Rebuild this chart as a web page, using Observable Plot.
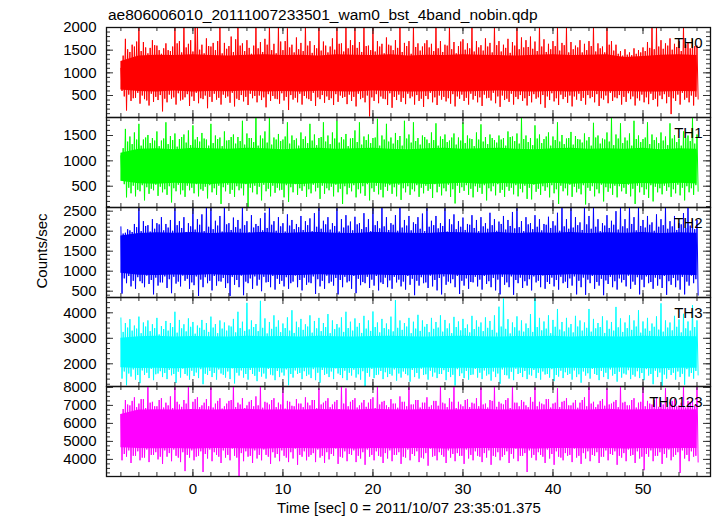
<!DOCTYPE html>
<html><head><meta charset="utf-8">
<script src="https://cdn.jsdelivr.net/npm/d3@7"></script>
<script src="https://cdn.jsdelivr.net/npm/@observablehq/plot@0.6"></script>
<style>
html,body{margin:0;padding:0;background:#fff;}
#fig{position:relative;width:717px;height:516px;overflow:hidden;font-family:"Liberation Sans",Arial,Helvetica,sans-serif;color:#000;}
.abs{position:absolute;white-space:nowrap;}
#title{left:108px;top:7px;font-size:15.5px;line-height:16px;}
#xlabel{left:209px;width:400px;text-align:center;top:500px;font-size:15px;line-height:16px;}
#ylabel{left:-58px;width:200px;text-align:center;top:243px;font-size:15px;line-height:16px;transform:rotate(-90deg);transform-origin:50% 50%;}
.panel{position:absolute;left:0;}
.panel svg{max-width:none;overflow:visible;}
</style></head><body>
<div id="fig">
  <div id="title" class="abs">ae806006010_20111007233501_wam0_bst_4band_nobin.qdp</div>
  <div id="ylabel" class="abs">Counts/sec</div>
  <div id="xlabel" class="abs">Time [sec] 0 = 2011/10/07 23:35:01.375</div>
</div>
<script>
// ---- time sampling of the envelope arrays ----
const t0 = -8.0, dt = 0.25;         // local maxima (hi) at t, local minima (lo) at t + dt/2
const coreT0 = -8.0, coreDt = 2.0;  // dense core band samples

// ---- TH0 ----
const th0Hi = [
 1100,1380,1750,1520,1460,1620,1580,1690,2050,1480,1680,1560,1430,1550,1720,1610,1600,1500,1420,1540,
 1650,1500,1480,1580,2020,1650,1700,1450,2060,1560,1640,1720,1470,2080,2000,1510,1620,1430,1760,1590,
 1580,1660,1500,1700,2050,1430,1660,1530,1590,1800,1460,1740,2040,1600,1650,1480,1720,1550,1420,1600,
 2010,1540,1680,1460,1750,1620,2060,1500,1640,1430,2030,1690,1500,1700,1980,1560,1620,1450,1780,1520,
 1660,1480,2050,1600,1700,1440,1610,1540,2020,1490,1690,1600,1450,1580,1760,1510,2040,1640,1650,1470,
 2000,1540,1720,1610,2050,1550,1680,1460,2010,1590,1600,1500,2030,1470,1700,1580,1640,1430,1780,1620,
 1600,1500,1720,1550,2040,1460,1660,1590,1700,1420,2020,1570,1650,1490,1580,1650,1720,1560,1640,1480,
 2030,1540,1700,1460,1620,1600,2050,1520,1680,1430,1590,1690,1740,1510,1650,1540,2010,1470,1700,1560,
 1610,1490,1760,1580,1660,1450,2040,1610,1700,1470,1620,1550,1750,1440,1680,1600,2030,1520,1780,1560,
 1720,1570,1800,1530,1690,1480,2050,1580,1740,1460,1640,1520,1700,1590,2020,1490,1660,1610,2000,1450,
 1680,1520,1600,1560,1720,1450,1640,1500,1700,1590,2030,1470,1650,1540,1580,1450,2010,1620,1700,1490,
 1620,1420,1480,1380,1520,1400,1450,1390,1540,1420,1500,1450,1560,1480,1680,1550,2040,1520,2000,1580,
 1720,1530,1650,1600,1760,1510,1640,1570,1700,1480,2020,1630,1680,1540,1740,1590,1600];
const th0Lo = [
 600,480,170,520,380,440,450,560,320,500,420,390,280,540,360,470,400,510,150,430,
 350,520,430,460,300,550,390,410,460,530,270,480,380,560,330,440,420,500,220,470,
 360,540,410,450,300,520,450,480,340,560,260,430,400,510,370,470,290,540,440,490,
 350,500,400,460,240,530,380,490,430,420,320,550,390,470,180,510,410,450,350,540,
 300,490,440,420,380,560,270,460,420,510,340,480,400,440,290,530,360,500,450,470,
 310,520,380,470,260,540,420,450,350,500,40,460,380,530,330,480,430,420,290,550,
 230,470,400,520,360,450,310,540,440,480,300,510,380,430,250,490,420,560,350,460,
 290,500,410,470,370,440,320,530,260,480,430,520,380,450,300,540,410,490,350,460,
 270,520,440,450,390,560,330,480,250,500,400,430,360,540,300,470,420,510,380,440,
 280,490,350,530,430,460,310,510,230,480,400,550,370,440,290,520,420,470,340,500,
 260,480,410,540,380,450,300,510,440,470,350,530,270,440,410,500,330,560,380,460,
 440,510,300,470,360,550,420,480,280,440,390,520,350,460,310,540,400,430,260,500,
 420,530,330,470,90,440,380,520,300,560,410,450,350,500,280,470,420];
const th0CoreHi = [1250,1370,1390,1380,1400,1380,1370,1390,1400,1380,1390,1370,1400,1390,1380,1400,1370,1390,1380,1400,1390,1380,1370,1390,1400,1380,1390,1400,1340,1360,1390,1400,1380];
const th0CoreLo = [620,590,580,600,575,590,585,600,580,590,575,595,585,580,600,590,575,585,595,580,590,600,585,575,590,580,595,585,590,580,575,590,585];

// ---- TH1 ----
const th1Hi = [
 1100,1250,1630,1380,1480,1330,1560,1420,1730,1300,1420,1460,1510,1350,1450,1400,1580,1290,1400,1440,
 1760,1330,1490,1410,1540,1280,1430,1470,1520,1360,1600,1310,1700,1420,1470,1380,1550,1440,1420,1300,
 1730,1350,1500,1430,1460,1290,1580,1400,1410,1470,1520,1340,1470,1390,1790,1320,1540,1450,1450,1370,
 1860,1300,1500,1440,1580,1360,1870,1320,1460,1420,1530,1390,1420,1480,1760,1340,1500,1410,1440,1300,
 1560,1430,1480,1350,1730,1400,1520,1310,1450,1470,1760,1380,1500,1330,1560,1440,1790,1360,1470,1420,
 1530,1290,1440,1450,1600,1370,1760,1320,1480,1410,1520,1350,1450,1460,1830,1300,1500,1420,1730,1380,
 1460,1340,1550,1410,1490,1300,1790,1440,1520,1360,1760,1390,1450,1320,1500,1470,1420,1350,1560,1410,
 1740,1300,1480,1430,1520,1370,1400,1460,1540,1320,1460,1400,1760,1350,1500,1440,1430,1290,1560,1420,
 1720,1380,1470,1330,1520,1450,1410,1360,1500,1420,1450,1300,1580,1470,1480,1390,1540,1340,1860,1430,
 1500,1370,1450,1310,1700,1440,1520,1350,1430,1480,1560,1300,1480,1410,1760,1380,1510,1330,1440,1450,
 1570,1320,1490,1430,1420,1360,1540,1400,1470,1300,1750,1460,1500,1340,1440,1420,1560,1380,1860,1310,
 1520,1440,1740,1350,1460,1400,1540,1300,1790,1430,1500,1370,1430,1460,1760,1330,1520,1410,1460,1350,
 1560,1400,1480,1310,1740,1440,1510,1370,1440,1300,1580,1450,1500,1390,1850,1340,1520];
const th1Lo = [
 620,540,280,470,360,510,300,430,400,520,220,480,350,450,420,530,310,490,380,440,
 330,500,180,460,400,530,340,420,290,510,420,470,360,540,300,440,410,490,260,520,
 380,460,330,510,150,480,400,530,350,430,290,500,420,460,320,540,80,470,380,510,
 340,490,220,530,400,450,300,510,370,470,420,430,280,520,190,480,380,540,330,460,
 410,500,290,440,360,530,400,470,250,510,350,460,420,490,300,530,380,450,150,500,
 340,470,400,520,280,440,360,500,310,540,220,460,390,510,340,430,280,490,410,520,
 350,480,300,530,230,460,380,500,330,440,400,520,290,470,360,510,410,450,270,540,
 380,490,320,460,400,530,290,440,160,510,370,480,410,520,330,450,280,500,390,470,
 350,520,220,460,400,500,320,540,370,430,290,490,410,470,340,520,300,450,380,510,
 250,470,240,530,390,450,330,500,410,480,280,520,360,440,150,510,400,460,320,530,
 290,490,380,450,340,520,140,470,410,500,300,440,360,530,200,480,390,460,330,510,
 280,500,400,470,350,530,300,450,150,510,380,480,330,440,270,520,200,490,380,460,
 340,510,410,480,290,440,360,530,320,470,220,500,380,460,330,520,400];
const th1CoreHi = [1150,1230,1240,1220,1250,1240,1230,1250,1240,1220,1240,1250,1230,1240,1250,1230,1220,1240,1250,1230,1240,1250,1230,1220,1240,1250,1230,1240,1230,1250,1220,1240,1230];
const th1CoreLo = [600,550,540,560,545,535,555,540,560,545,535,555,540,550,560,540,555,535,545,560,540,555,545,535,560,540,555,545,535,555,540,560,545];

// ---- TH2 ----
const th2Hi = [
 2110,1940,1960,2050,2020,1980,2180,2100,2620,2000,2250,2130,2150,1990,2300,2060,2200,2170,2350,2020,
 2180,2090,2280,2010,2620,2150,2250,2080,2350,1980,2200,2120,2620,2040,2300,2160,2420,2000,2620,2110,
 2620,2050,2260,2140,2380,1990,2620,2170,2200,2030,2340,2100,2280,2060,2620,2150,2250,1970,2400,2090,
 2180,2130,2320,2020,2460,2080,2620,2160,2250,2010,2350,2120,2200,1990,2420,2140,2280,2050,2180,2100,
 2380,2030,2250,2150,2320,2000,2450,2110,2620,2060,2260,2170,2350,2040,2200,2130,2620,1990,2300,2090,
 2400,2140,2240,2020,2360,2170,2200,2050,2450,2100,2300,2000,2620,2150,2250,2070,2620,2120,2350,2030,
 2200,2160,2400,2010,2620,2090,2280,2140,2380,2020,2220,2180,2350,2060,2440,2000,2620,2110,2260,2150,
 2380,2070,2200,2130,2620,1990,2300,2170,2420,2050,2250,2110,2340,2030,2180,2160,2400,2080,2280,2000,
 2350,2120,2200,2060,2460,2150,2300,2010,2240,2180,2380,2040,2280,2130,2480,2070,2620,2100,2250,2000,
 2350,2170,2200,2050,2400,2110,2300,2020,2180,2160,2360,2080,2250,2140,2460,2010,2620,2120,2300,2060,
 2620,2090,2350,2150,2220,2030,2620,2170,2380,2060,2620,2110,2300,2000,2200,2140,2400,2080,2260,2160,
 2500,2040,2620,2120,2300,2070,2620,2180,2350,2020,2620,2130,2280,2090,2380,2160,2220,2010,2420,2110,
 2300,2150,2620,2060,2250,2120,2380,2030,2200,2170,2450,2080,2620,2140,2300,2050,2280];
const th2Lo = [
 440,820,700,880,620,760,560,850,750,700,600,890,680,780,420,840,640,720,720,870,
 580,800,450,860,690,740,620,890,760,810,560,720,650,870,380,790,600,850,700,760,
 520,880,640,750,740,830,580,700,380,860,660,780,600,890,400,740,700,820,560,870,
 640,790,500,860,720,730,600,880,540,810,680,760,620,850,560,700,740,890,600,780,
 520,840,660,720,700,870,430,800,620,760,560,890,700,740,640,830,420,780,600,860,
 720,750,560,880,450,810,650,730,700,860,580,790,640,880,520,720,680,840,600,770,
 560,860,720,790,620,740,540,880,660,810,400,760,640,850,700,720,580,890,620,780,
 520,830,420,870,660,740,700,800,600,880,430,760,640,820,560,730,720,860,620,790,
 540,880,680,750,600,830,520,790,420,860,660,720,600,870,410,780,700,840,580,750,
 640,800,520,870,720,760,600,890,560,730,680,840,620,780,540,860,700,740,580,820,
 640,870,420,760,600,840,410,790,700,880,560,730,640,810,400,770,680,860,600,750,
 540,820,720,780,620,890,560,740,660,850,420,790,600,870,700,730,560,840,640,800,
 580,880,410,750,660,830,600,770,540,860,420,740,640,890,700,800,400];
const th2CoreHi = [1880,1940,1960,1950,1970,1940,1960,1950,1970,1940,1960,1970,1950,1940,1970,1960,1950,1940,1970,1960,1950,1970,1940,1960,1950,1970,1940,1960,1950,1970,1940,1960,1950];
const th2CoreLo = [950,900,890,905,895,910,890,900,905,890,895,910,900,890,905,895,890,900,910,895,890,905,900,890,895,910,900,890,905,895,890,900,895];

// ---- TH3 ----
const th3Hi = [
 3800,3250,3600,3420,3750,3300,3500,3380,3850,3200,3620,3460,3700,3280,3550,3400,3800,3150,3480,3360,
 3680,3300,3600,3440,4040,3220,3720,3390,3550,3270,3780,3450,3640,3180,3500,3410,3720,3330,3600,3250,
 3850,3420,3560,3200,3700,3380,3620,3300,3500,3460,3760,3230,4040,3400,3650,3290,4390,3350,3700,3440,
 3560,3280,4470,3410,3780,3190,3640,3370,3900,3450,3700,3240,3580,3400,3820,3300,4100,3210,3650,3430,
 3760,3330,3550,3460,3900,3220,3680,3390,3800,3280,3600,3440,3950,3200,3700,3360,3560,3420,3820,3250,
 4040,3400,3650,3300,3780,3450,3600,3210,3880,3380,3700,3290,4050,3440,3620,3230,3760,3400,3580,3350,
 3850,3270,4500,3410,3700,3330,3600,3460,3800,3200,3650,3380,3920,3290,3700,3450,3560,3240,3800,3370,
 3640,3420,3900,3260,3720,3390,3580,3200,3840,3440,3660,3310,3760,3400,3540,3230,3880,3360,3700,3450,
 3620,3280,3820,3410,3680,3330,3900,3220,4240,3460,4560,3370,3750,3190,3620,3430,3860,3300,3700,3260,
 3580,3400,3950,3250,4630,3440,3800,3310,3660,3380,3900,3200,3720,3450,4150,3340,3640,3270,3800,3420,
 3560,3230,3880,3460,3700,3300,3620,3410,4150,3260,3760,3390,3600,3440,3860,3210,3700,3370,3640,3300,
 4230,3430,3780,3250,3620,3400,3900,3330,3700,3460,4100,3220,3660,3380,3800,3290,3580,3450,3860,3340,
 4370,3260,3700,3420,3620,3310,3880,3450,3740,3230,3960,3390,3660,3300,4300,3440,3700];
const th3Lo = [
 1420,1700,1160,1620,1500,1780,1380,1560,1240,1740,1560,1650,1440,1800,1360,1590,1620,1710,1480,1640,
 1400,1760,1550,1600,1250,1690,1460,1810,1600,1540,1380,1730,1520,1660,1440,1790,1200,1610,1560,1720,
 1480,1640,1380,1780,1620,1570,1460,1700,1400,1820,1230,1650,1540,1740,1460,1600,1380,1760,1600,1530,
 1320,1690,1500,1620,1420,1800,1580,1550,1360,1720,1480,1660,1540,1780,1160,1600,1460,1740,1600,1640,
 1400,1710,1520,1580,1440,1790,1360,1650,1260,1760,1560,1610,1480,1700,1400,1820,1620,1560,1440,1730,
 1360,1650,1540,1770,1460,1590,1380,1710,1100,1640,1500,1800,1440,1560,1580,1720,1400,1670,1480,1600,
 1540,1780,1340,1620,1460,1700,1600,1550,1300,1760,1480,1640,1420,1810,1560,1590,1380,1730,1500,1660,
 1440,1600,1600,1750,1360,1680,1480,1570,1150,1790,1520,1630,1440,1720,1380,1560,1580,1800,1460,1650,
 1400,1740,1540,1590,1340,1700,1480,1620,1220,1780,1560,1550,1420,1690,1360,1810,1600,1640,1480,1720,
 1400,1580,1540,1760,1440,1650,1380,1700,1580,1600,1460,1790,1320,1560,1500,1730,1440,1670,1560,1610,
 1380,1740,1480,1590,1260,1700,1540,1630,1420,1800,1600,1560,1360,1720,1480,1650,1400,1780,1540,1600,
 1300,1690,1460,1620,1580,1750,1400,1570,1500,1710,1440,1640,1360,1790,1540,1600,1200,1730,1480,1660,
 1100,1580,1420,1760,1560,1650,1380,1700,1480,1610,1180,1790,1500,1640,1420,1720,1560];
const th3CoreHi = [3000,3060,3080,3050,3070,3060,3050,3080,3060,3070,3050,3080,3060,3050,3070,3080,3060,3050,3070,3080,3060,3050,3070,3060,3080,3050,3070,3060,3050,3080,3060,3070,3060];
const th3CoreLo = [1850,1820,1830,1810,1825,1835,1815,1820,1830,1810,1825,1835,1820,1815,1830,1825,1810,1835,1820,1830,1815,1825,1835,1810,1820,1830,1815,1825,1835,1820,1810,1830,1825];

// ---- TH0123 ----
const th0123Hi = [
 6500,6800,7300,7050,7000,7250,7450,6900,7100,7350,7350,6850,8100,7150,7200,6950,6950,7300,7400,6880,
 7150,7000,7500,6850,8100,7200,7050,6920,7300,7100,8100,6800,7200,7350,7450,6900,7000,7150,7350,6950,
 8000,6880,7100,7250,7400,6820,6950,7100,7250,7300,8100,6900,7150,7050,7400,6850,7000,7200,7300,6950,
 7500,7000,8100,6870,7200,7150,7050,7300,7400,6900,7150,7050,8100,6820,7250,7200,6980,6950,7350,7100,
 7100,6900,7450,7150,7000,7300,7300,6850,7950,7050,7150,7250,7400,6900,7050,7200,7300,6800,8100,7100,
 7950,6950,7200,7300,7400,6880,7000,7150,7300,6920,7150,7350,7450,6850,8100,7050,7200,7250,7000,6900,
 7350,7100,7100,6870,7500,7200,7200,6950,8100,7050,7050,7300,7300,6880,7150,7150,7450,6920,7000,7250,
 7250,6980,8100,7150,7100,6900,7400,7200,8100,6850,7200,7050,6950,7300,7350,6900,7150,7100,7400,6950,
 8000,7050,7100,6880,7300,7250,8100,6920,7200,7100,7050,7300,7400,6850,8100,7150,7150,6950,7300,7200,
 7000,6900,7450,7200,8100,6950,7200,7100,7050,7350,7350,6880,7100,7150,7950,6900,7200,7250,7400,7000,
 7000,7150,7300,6870,7150,7300,7450,6950,8100,7100,7200,6900,7050,7250,7350,6980,7950,7050,7100,7200,
 7300,6900,8100,7150,7200,7000,7000,7300,7400,6880,7150,7200,8100,6950,7250,7100,7050,7300,7400,6920,
 7150,7050,7950,6900,7200,7250,7350,6950,7000,7150,8100,6880,7250,7200,7400,7000,8100];
const th0123Lo = [
 3950,4300,4150,4500,3800,4200,4200,4450,3950,4100,4100,4550,3850,4250,4250,4400,4000,4150,3750,4500,
 4150,4350,3900,4550,4200,4100,3850,4400,3350,4250,4100,4500,3950,4150,4200,4450,3300,4300,4050,4550,
 3900,4400,4250,4150,3800,4500,4100,4250,3950,4600,4200,4100,3050,4350,3900,4450,4150,4200,3800,4500,
 4050,4250,3950,4550,4250,4150,3750,4400,4100,4300,3900,4500,4200,4100,3850,4400,4050,4600,3700,4250,
 4150,4450,3950,4150,4250,4350,3850,4550,4100,4200,3800,4400,4000,4300,4200,4600,3750,4150,4100,4450,
 3900,4300,4250,4500,3850,4200,4050,4400,3700,4550,4150,4250,3950,4450,4200,4150,3800,4350,4050,4500,
 3900,4250,4250,4400,3750,4150,4100,4550,3950,4300,4200,4450,3850,4100,4050,4350,3650,4600,4150,4200,
 3950,4400,4250,4150,3800,4500,4100,4300,3900,4350,4200,4200,3750,4550,4050,4250,3950,4450,4200,4150,
 3850,4350,4100,4500,3700,4200,4150,4400,3950,4150,4250,4450,3800,4300,4050,4600,3900,4200,4200,4350,
 3300,4500,4100,4250,3950,4400,4250,4150,3800,4550,4050,4300,3700,4450,4150,4100,3950,4350,4200,4250,
 3850,4600,4100,4200,3750,4350,4050,4450,3900,4250,4200,4400,3800,4150,4150,4500,3950,4300,4250,4450,
 3700,4200,4100,4350,3900,4550,4200,4250,3800,4450,4050,4150,3400,4300,4150,4500,3900,4200,4200,4400,
 3750,4300,4100,4550,3950,4150,4250,4400,3250,4500,4050,4250,3900,4450,4150,4200,3850];
const th0123CoreHi = [6500,6740,6760,6750,6770,6740,6760,6780,6750,6760,6740,6770,6760,6750,6780,6760,6740,6770,6750,6760,6780,6740,6760,6750,6770,6760,6740,6780,6750,6760,6770,6740,6760];
const th0123CoreLo = [4650,4600,4590,4610,4580,4600,4610,4590,4580,4600,4610,4590,4600,4580,4610,4590,4600,4610,4580,4590,4600,4610,4590,4580,4600,4610,4590,4600,4580,4610,4590,4600,4610];

// ---- labels, scales, ticks ----
const panelNames = ["TH0", "TH1", "TH2", "TH3", "TH0123"];
const panelColors = ["#ff0000", "#00ff00", "#0000ff", "#00ffff", "#ff00ff"];
const yDomains = [[15, 2000], [80, 1855], [342, 2592], [1110, 4600], [3050, 8050]];
const yMajorTicks = [[500, 1000, 1500, 2000], [500, 1000, 1500], [500, 1000, 1500, 2000, 2500], [2000, 3000, 4000], [4000, 5000, 6000, 7000, 8000]];
const yMinorSteps = [100, 100, 100, 200, 250];
const xDomain = [-9.6, 57.5];
const xMajorTicks = [0, 10, 20, 30, 40, 50];
const xMinorTicks = [-8, -6, -4, -2, 0, 2, 4, 6, 8, 10, 12, 14, 16, 18, 20, 22, 24, 26, 28, 30, 32, 34, 36, 38, 40, 42, 44, 46, 48, 50, 52, 54, 56];

const HI = [th0Hi, th1Hi, th2Hi, th3Hi, th0123Hi];
const LO = [th0Lo, th1Lo, th2Lo, th3Lo, th0123Lo];
const CORE_HI = [th0CoreHi, th1CoreHi, th2CoreHi, th3CoreHi, th0123CoreHi];
const CORE_LO = [th0CoreLo, th1CoreLo, th2CoreLo, th3CoreLo, th0123CoreLo];

// ---- layout ----
const W = 717, ML = 106, MR = 7;
const FW = W - ML - MR;
const panelTops = [27, 117, 207, 297, 386];
const panelHeights = [90, 90, 90, 89, 90];
const minorLen = 4, majorLen = 7;
const tickColor = "#333";

const fig = document.getElementById("fig");

for (let k = 0; k < 5; k++) {
  const H = panelHeights[k];
  const last = k === 4;
  const MB = last ? 40 : 0;
  const zig = [];
  HI[k].forEach((v, i) => {
    zig.push({t: t0 + i * dt, v});
    if (LO[k][i] != null) zig.push({t: t0 + i * dt + dt / 2, v: LO[k][i]});
  });
  const core = CORE_HI[k].map((v, i) => ({t: coreT0 + i * coreDt, hi: v, lo: CORE_LO[k][i]}));
  const [d0, d1] = yDomains[k];
  const step = yMinorSteps[k];
  const yMinor = d3.range(Math.ceil(d0 / step) * step, d1 + 1e-9, step);
  const marks = [
    Plot.areaY(core, {x: "t", y1: "lo", y2: "hi", fill: panelColors[k], clip: true}),
    Plot.line(zig, {x: "t", y: "v", stroke: panelColors[k], strokeWidth: 1, clip: true}),
    Plot.ruleX(xMinorTicks, {stroke: tickColor, insetBottom: H - minorLen}),
    Plot.ruleX(xMinorTicks, {stroke: tickColor, insetTop: H - minorLen}),
    Plot.ruleX(xMajorTicks, {stroke: tickColor, insetBottom: H - majorLen}),
    Plot.ruleX(xMajorTicks, {stroke: tickColor, insetTop: H - majorLen}),
    Plot.ruleY(yMinor, {stroke: tickColor, insetRight: FW - minorLen}),
    Plot.ruleY(yMinor, {stroke: tickColor, insetLeft: FW - minorLen}),
    Plot.ruleY(yMajorTicks[k], {stroke: tickColor, insetRight: FW - majorLen}),
    Plot.ruleY(yMajorTicks[k], {stroke: tickColor, insetLeft: FW - majorLen}),
    Plot.axisY({ticks: yMajorTicks[k], anchor: "left", tickSize: 0, tickPadding: 10, tickFormat: d => String(d), label: null}),
    Plot.text([panelNames[k]], {frameAnchor: "top-right", dx: -8, dy: 10, textAnchor: "end", fontSize: 15, fill: "#000"}),
    Plot.frame({stroke: "#111", strokeWidth: 1.3})
  ];
  if (last) marks.push(Plot.axisX({ticks: xMajorTicks, anchor: "bottom", tickSize: 0, tickPadding: 7, tickFormat: d => String(d), label: null}));
  const svg = Plot.plot({
    width: W,
    height: H + MB,
    marginLeft: ML,
    marginRight: MR,
    marginTop: 0,
    marginBottom: MB,
    style: {fontFamily: "'Liberation Sans', Arial, Helvetica, sans-serif", fontSize: "15px", overflow: "visible", background: "transparent", color: "#000"},
    x: {domain: xDomain, axis: last ? undefined : null},
    y: {domain: yDomains[k], axis: null},
    marks
  });
  const holder = document.createElement("div");
  holder.className = "panel";
  holder.style.top = panelTops[k] + "px";
  holder.appendChild(svg);
  fig.appendChild(holder);
}
</script>
</body></html>
